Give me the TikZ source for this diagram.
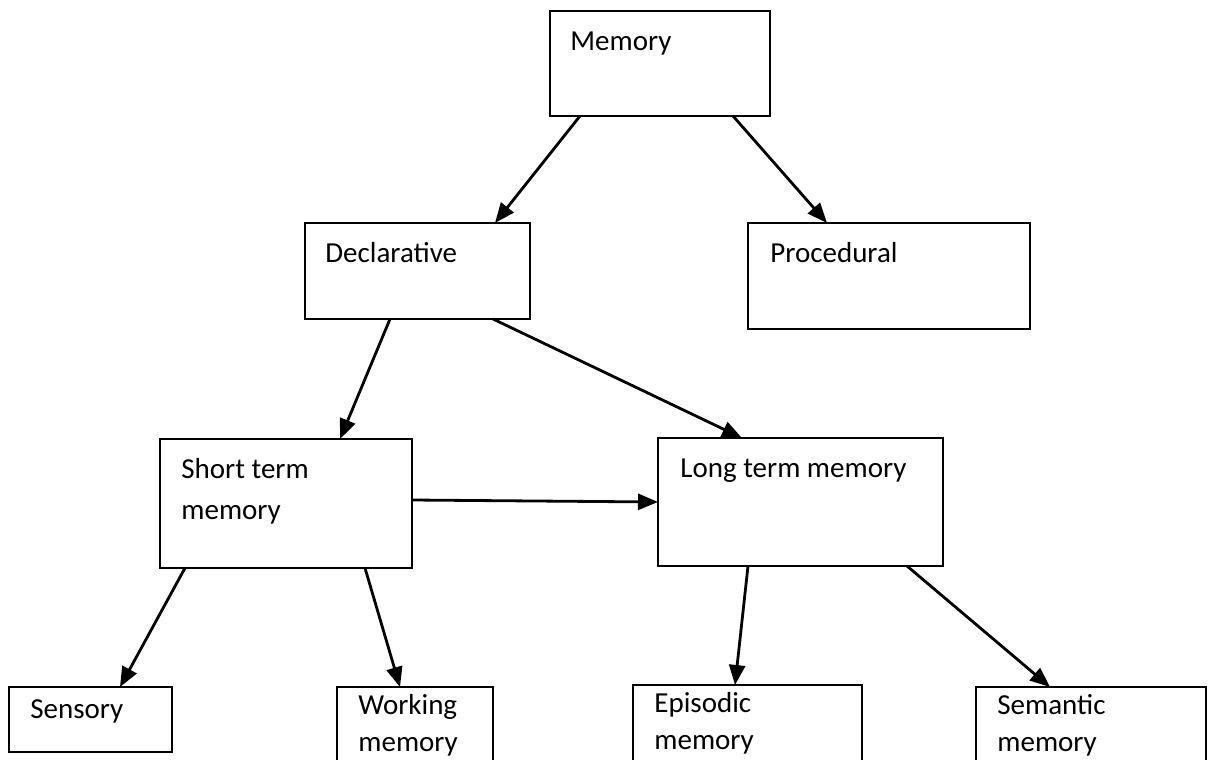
\documentclass[tikz,border=0pt]{standalone}
\usepackage{fontspec}
\setmainfont{Carlito}
\usetikzlibrary{calc,arrows.meta}
\tikzset{
  box/.style={draw=black, line width=1.1pt, rectangle, anchor=north west, inner sep=0pt, outer sep=0pt, fill=white},
  lbl/.style={anchor=base west, inner sep=0pt, align=left, font=\fontsize{14.5}{20.5}\selectfont},
  lowlbl/.style={lbl, font=\fontsize{14.5}{18.5}\selectfont},
  arr/.style={line width=1.4pt, -{Triangle[length=10pt,width=8pt]}}
}
\begin{document}
\begin{tikzpicture}[x=0.5pt,y=-0.5pt]
\useasboundingbox[fill=white] (0,0) rectangle (1216,760);
% boxes
\node[box, minimum width=110pt, minimum height=52.5pt] (mem) at (550,11) {};
\node[box, minimum width=112.5pt, minimum height=48pt] (dec) at (305,223) {};
\node[box, minimum width=141pt, minimum height=53pt] (pro) at (748,223) {};
\node[box, minimum width=126pt, minimum height=64.5pt] (stm) at (160,439) {};
\node[box, minimum width=142.5pt, minimum height=64pt] (ltm) at (658,438) {};
\node[box, minimum width=81.5pt, minimum height=32.5pt] (sen) at (9,687) {};
\node[box, minimum width=78pt, minimum height=45pt] (wor) at (337,687) {};
\node[box, minimum width=114.5pt, minimum height=45pt] (epi) at (633,685) {};
\node[box, minimum width=115pt, minimum height=45pt] (sem) at (976,687) {};
% labels (base anchor of two-line labels is on the last line)
\node[lbl] (tmem) at ($(mem.north west)+(20,39)$) {Memory};
\node[lbl] (tdec) at ($(dec.north west)+(20,39)$) {Declarative};
\node[lbl] (tpro) at ($(pro.north west)+(22,39)$) {Procedural};
\node[lbl] (tstm) at ($(stm.north west)+(21,80)$) {Short term\\memory};
\node[lbl] (tltm) at ($(ltm.north west)+(22,39)$) {Long term memory};
\node[lbl] (tsen) at ($(sen.north west)+(21,31)$) {Sensory};
\node[lowlbl] (twor) at ($(wor.north west)+(21,64)$) {Working\\memory};
\node[lowlbl] (tepi) at ($(epi.north west)+(21,64)$) {Episodic\\memory};
\node[lowlbl] (tsem) at ($(sem.north west)+(21,64)$) {Semantic\\memory};
% connectors
\draw[arr] ($(mem.south west)+(30,0)$) -- ($(dec.north west)+(190,0)$);
\draw[arr] ($(mem.south west)+(183,0)$) -- ($(pro.north west)+(79,0)$);
\draw[arr] ($(dec.south west)+(85,0)$) -- ($(stm.north west)+(180,0)$);
\draw[arr] ($(dec.south west)+(188,0)$) -- ($(ltm.north west)+(84,0)$);
\draw[arr] ($(stm.north east)+(0,61)$) -- ($(ltm.north west)+(0,64)$);
\draw[arr] ($(stm.south west)+(25,0)$) -- ($(sen.north west)+(111,0)$);
\draw[arr] ($(stm.south west)+(205,0)$) -- ($(wor.north west)+(63,0)$);
\draw[arr] ($(ltm.south west)+(90,0)$) -- ($(epi.north west)+(102,0)$);
\draw[arr] ($(ltm.south west)+(249,0)$) -- ($(sem.north west)+(74,0)$);
\end{tikzpicture}
\end{document}
